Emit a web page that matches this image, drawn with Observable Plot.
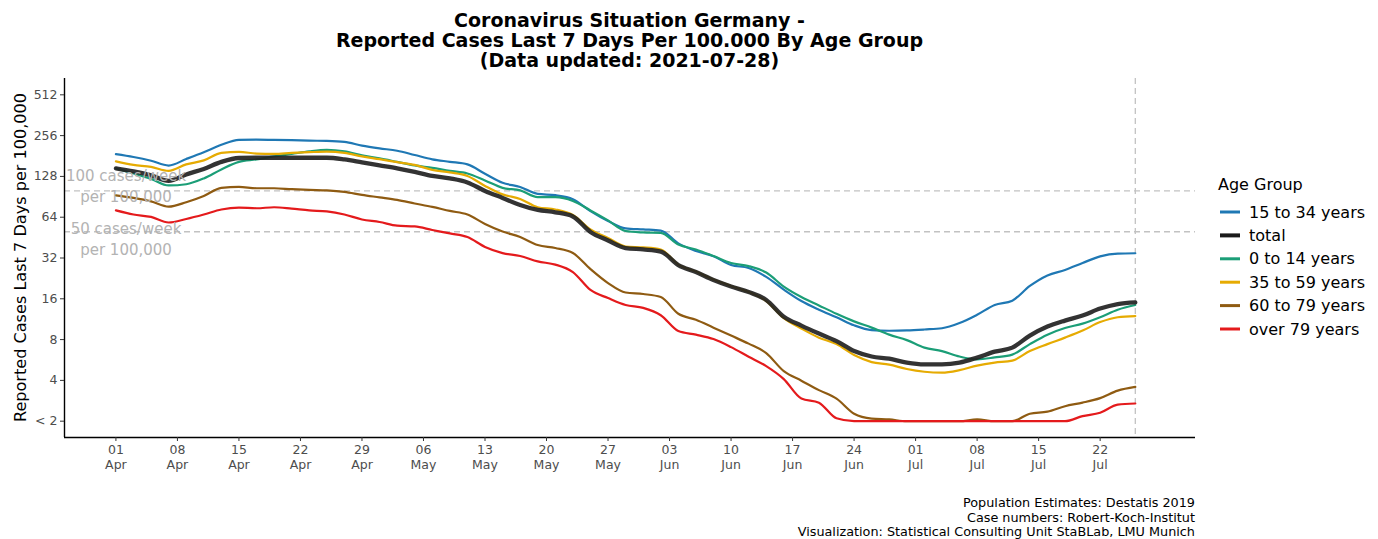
<!DOCTYPE html>
<html><head><meta charset="utf-8">
<script src="https://cdn.jsdelivr.net/npm/d3@7"></script>
<script src="https://cdn.jsdelivr.net/npm/@observablehq/plot@0.6"></script>
<style>body{margin:0;background:#fff;} #chart svg{display:block;}</style>
</head><body><div id="chart"></div>
<script>
// ---- data ----
const DAY = 864e5;
const start = Date.UTC(2021, 3, 1);
const dayOffsets = d3.range(0, 117, 2); // every 2nd day, 01 Apr .. 26 Jul
const groups = ["15 to 34 years", "total", "0 to 14 years", "35 to 59 years", "60 to 79 years", "over 79 years"];
const colors = ["#1f78b4", "#1a1a1a", "#1b9e77", "#e6ab02", "#8f5b12", "#e41a1c"];

const age15to34 = [187,178,167,154,172,193,219,238,239,238,237,235,234,230,216,206,198,184,171,164,157,134,115,107,95,93,87,71,60,53,52,51,41,36,33,28.4,27,23.2,18.7,15.4,13.3,11.7,10.2,9.4,9.3,9.35,9.5,9.7,10.6,12.2,14.4,15.5,19.9,23.8,26.1,29.4,32.9,34.5,34.7];
const total = [146.7,139.3,130.2,118.6,132.4,145.4,163.8,175,175.8,175.8,175.8,175.8,175.8,170.8,162.4,154.3,146.7,138.2,129.1,123.7,115.6,100,88.8,78.8,72.4,69.6,64.8,49.8,43.1,37.9,37,35.7,28.4,25.2,22,19.7,17.95,15.7,11.8,10.15,8.86,7.8,6.58,6.0,5.78,5.41,5.25,5.25,5.41,5.89,6.52,6.98,8.56,9.98,11.05,12.03,13.55,14.63,15.06];
const age0to14 = [146.7,134.6,122.7,109.8,112.1,123.7,144.2,163.8,170.8,179.8,187.6,195.9,201,195.9,182.9,173.8,163.8,154.3,147.9,140.5,134.6,119.6,105.3,100.9,89.9,89.9,84.4,71.8,60.6,50.6,49.4,49,40.2,37,33.1,29.4,27.9,25,19.7,16.5,14.3,12.4,10.9,9.8,8.7,7.93,6.98,6.58,6.0,5.72,5.91,6.2,7.41,8.7,9.73,10.5,11.7,13.3,14.4];
const age35to59 = [165.2,155.6,150.4,140.5,157,168,190.9,194.2,188.7,187.6,190.9,193.2,194.9,190.9,179.8,171.5,163,155.6,143,137.1,129.1,108.9,94.3,87.3,75.8,73,66.4,52,45,38.9,38.3,37,28.6,25.4,22.2,19.9,17.95,15.4,11.5,9.65,8.27,7.41,6.15,5.46,5.23,4.85,4.63,4.56,4.76,5.14,5.41,5.6,6.58,7.41,8.27,9.32,10.77,11.7,11.93];
const age60to79 = [92.7,88.8,83.7,76.6,82.6,91.9,105.3,107,104.7,104.7,103,101.7,100.9,98.4,93.5,89.6,85.8,80.8,76.2,71.2,67,57.1,50.2,45.7,39.9,37.9,34.8,26.5,20.9,17.8,17.35,16.5,12.4,11.2,9.8,8.56,7.47,6.36,4.68,3.98,3.39,2.93,2.27,2.09,2.06,2,2,2,2,2.06,2,2,2.27,2.35,2.58,2.74,2.96,3.36,3.58];
const over79 = [71.8,67,64.3,58.5,62.1,67,73,75.3,74.5,75.8,74,71.8,70.6,67,61.6,59,55.4,54.7,51.5,48.6,45.7,38.6,34.8,33.1,30.2,28.6,25.2,18.6,16.2,14.4,13.7,12.1,9.25,8.7,8.07,7.04,5.98,5.1,4.09,2.94,2.74,2.1,2,2,2,2,2,2,2,2,2,2,2,2,2,2.18,2.31,2.65,2.7];

const yTicks = [2, 4, 8, 16, 32, 64, 128, 256, 512];
const xTickOffsets = d3.range(0, 113, 7);
const refValues = [100, 50];
const refLabels = ["100 cases/week\nper 100,000", "50 cases/week\nper 100,000"];
const refLabelY = [111, 45];
const titleLines = ["Coronavirus Situation Germany -", "Reported Cases Last 7 Days Per 100.000 By Age Group", "(Data updated: 2021-07-28)"];
const captionLines = ["Population Estimates: Destatis 2019", "Case numbers: Robert-Koch-Institut", "Visualization: Statistical Consulting Unit StaBLab, LMU Munich"];
const yTitle = "Reported Cases Last 7 Days per 100,000";
const legendTitle = "Age Group";

// ---- build table ----
const dates = dayOffsets.map(d => new Date(start + d * DAY));
const lastDate = new Date(start + 116 * DAY);
const seriesList = [age15to34, total, age0to14, age35to59, age60to79, over79];
const rows = [];
seriesList.forEach((vals, gi) => vals.forEach((v, i) => rows.push({group: groups[gi], date: dates[i], value: v})));
const colored = rows.filter(r => r.group !== "total");
const totalRows = rows.filter(r => r.group === "total");

const xDomain = [new Date(start - 5.85 * DAY), new Date(start + 122.85 * DAY)];
const yDomain = [2 ** 0.6, 2 ** 9.4];
const xTicks = xTickOffsets.map(d => new Date(start + d * DAY));
const fmt = d3.utcFormat("%d\n%b");

const W = 1378, H = 539, mL = 64, mR = 183, mT = 78, mB = 102;

const chart = Plot.plot({
  width: W, height: H,
  marginLeft: mL, marginRight: mR, marginTop: mT, marginBottom: mB,
  style: {fontFamily: "DejaVu Sans", background: "white", overflow: "visible"},
  x: {type: "utc", domain: xDomain},
  y: {type: "log", base: 2, domain: yDomain},
  color: {domain: groups, range: colors},
  marks: [
    Plot.ruleY(refValues, {y: d => d, stroke: "#c2c2c2", strokeWidth: 1.3, strokeDasharray: "6,4"}),
    Plot.ruleX([lastDate], {x: d => d, stroke: "#c2c2c2", strokeWidth: 1.3, strokeDasharray: "6,4"}),
    Plot.lineY(colored, {x: "date", y: "value", z: "group", stroke: "group", strokeWidth: 2.2, curve: "monotone-x"}),
    Plot.lineY(totalRows, {x: "date", y: "value", stroke: "#222", strokeOpacity: 0.92, strokeWidth: 4.3, curve: "monotone-x"}),
    Plot.text(refLabels, {x: () => new Date(start + 1.15 * DAY), y: (d, i) => refLabelY[i], text: d => d,
      fill: "#b3b3b3", fontSize: 15, lineHeight: 1.4, textAnchor: "middle"}),
    Plot.ruleX([xDomain[0]], {x: d => d, stroke: "#000", strokeWidth: 1.4}),
    Plot.ruleY([yDomain[0]], {y: d => d, stroke: "#000", strokeWidth: 1.4}),
    Plot.axisY({ticks: yTicks, tickFormat: d => d === 2 ? "< 2" : String(d), tickSize: 4, tickPadding: 3,
      fontSize: 12.5, fill: "#4d4d4d", stroke: "#333", label: null}),
    Plot.axisX({ticks: xTicks, tickFormat: fmt, tickSize: 4, tickPadding: 2,
      fontSize: 12.5, fill: "#4d4d4d", stroke: "#333", lineHeight: 1.2, label: null})
  ]
});
document.getElementById("chart").appendChild(chart);

// ---- text outside the panel ----
const svg = d3.select(chart);
const cx = (mL + (W - mR)) / 2;
svg.append("g").selectAll("text").data(titleLines).join("text")
  .attr("x", cx).attr("y", (d, i) => 27 + i * 20)
  .attr("text-anchor", "middle").attr("font-weight", "bold").attr("font-size", 19)
  .attr("font-family", "DejaVu Sans").attr("fill", "#000").text(d => d);

svg.append("text")
  .attr("transform", `translate(26,${(mT + H - mB) / 2}) rotate(-90)`)
  .attr("text-anchor", "middle").attr("font-size", 16.1).attr("font-family", "DejaVu Sans")
  .attr("fill", "#000").text(yTitle);

svg.append("g").selectAll("text").data(captionLines).join("text")
  .attr("x", W - mR).attr("y", (d, i) => 507 + i * 14.5)
  .attr("text-anchor", "end").attr("font-size", 12.8).attr("font-family", "DejaVu Sans")
  .attr("fill", "#000").text(d => d);

const lg = svg.append("g").attr("text-anchor", "start");
lg.append("text").attr("x", 1218).attr("y", 190).attr("text-anchor", "start").attr("font-size", 16)
  .attr("font-family", "DejaVu Sans").attr("fill", "#000").text(legendTitle);
groups.forEach((g, i) => {
  const y = 212 + i * 23.4;
  lg.append("line").attr("x1", 1220).attr("x2", 1240).attr("y1", y).attr("y2", y)
    .attr("stroke", colors[i]).attr("stroke-width", g === "total" ? 4 : 3);
  lg.append("text").attr("x", 1249).attr("y", y).attr("dy", "0.35em").attr("text-anchor", "start")
    .attr("font-size", 16).attr("font-family", "DejaVu Sans").attr("fill", "#000").text(g);
});
</script></body></html>
